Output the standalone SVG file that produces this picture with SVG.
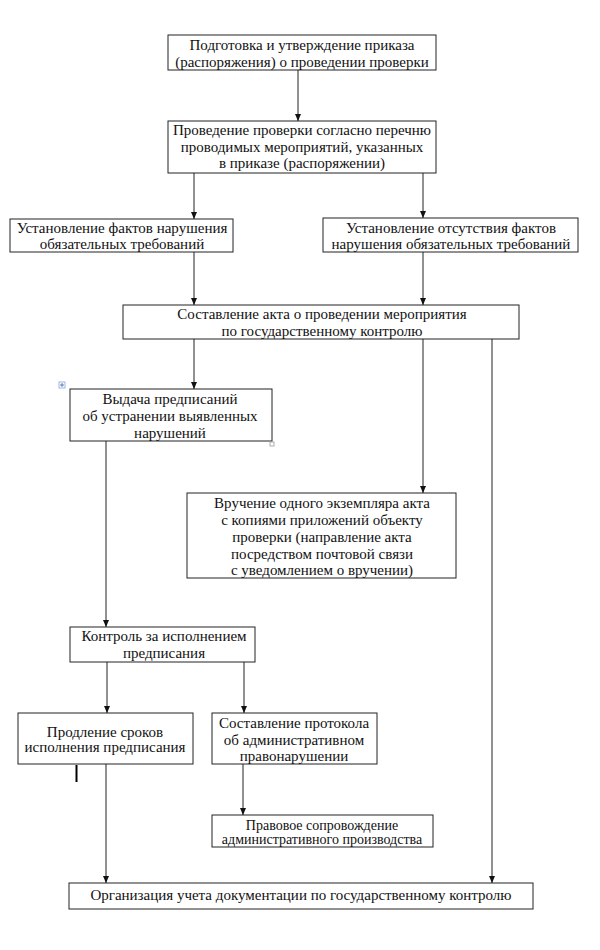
<svg xmlns="http://www.w3.org/2000/svg" width="600" height="950" viewBox="0 0 600 950">
<style>
.box{fill:#fff;stroke:#222;stroke-width:1}
.t{font-family:"Liberation Serif","Times New Roman",serif;font-size:15px;fill:#111;text-anchor:middle}
.s{font-size:14px}
.c{stroke:#222;stroke-width:1;fill:none;marker-end:url(#ah)}
</style>
<defs>
<marker id="ah" markerWidth="8" markerHeight="8" refX="7" refY="3" orient="auto" markerUnits="userSpaceOnUse">
<path d="M0,0 L7,3 L0,6 Z" fill="#111"/>
</marker>
</defs>
<rect width="600" height="950" fill="#fff"/>
<g id="connectors">
<line class="c" x1="298" y1="70" x2="298" y2="121"/>
<line class="c" x1="194" y1="173" x2="194" y2="219"/>
<line class="c" x1="423" y1="173" x2="423" y2="218"/>
<line class="c" x1="194" y1="252" x2="194" y2="305"/>
<line class="c" x1="423" y1="252" x2="423" y2="305"/>
<line class="c" x1="194" y1="339" x2="194" y2="389"/>
<line class="c" x1="423" y1="339" x2="423" y2="493"/>
<line class="c" x1="492" y1="339" x2="492" y2="883"/>
<line class="c" x1="106" y1="441" x2="106" y2="627"/>
<line class="c" x1="107" y1="662" x2="107" y2="713"/>
<line class="c" x1="244" y1="662" x2="244" y2="713"/>
<line class="c" x1="106" y1="764" x2="106" y2="883"/>
<line class="c" x1="243" y1="764" x2="243" y2="815"/>
</g>
<g id="n1"><rect class="box" x="168" y="35" width="268" height="35"/>
<text class="t" x="302" y="50">Подготовка и утверждение приказа</text>
<text class="t" x="302" y="67">(распоряжения) о проведении проверки</text></g>
<g id="n2"><rect class="box" x="168" y="121" width="268" height="52"/>
<text class="t" x="302" y="135">Проведение проверки согласно перечню</text>
<text class="t" x="302" y="152">проводимых мероприятий, указанных</text>
<text class="t" x="302" y="168">в приказе (распоряжении)</text></g>
<g id="n3"><rect class="box" x="10" y="219" width="223" height="33"/>
<text class="t" x="122" y="233">Установление фактов нарушения</text>
<text class="t" x="122" y="249">обязательных требований</text></g>
<g id="n4"><rect class="box" x="323" y="218" width="255" height="34"/>
<text class="t" x="451" y="233">Установление отсутствия фактов</text>
<text class="t" x="451" y="249">нарушения обязательных требований</text></g>
<g id="n5"><rect class="box" x="123" y="305" width="396" height="34"/>
<text class="t" x="322" y="319">Составление акта о проведении мероприятия</text>
<text class="t" x="322" y="336">по государственному контролю</text></g>
<g id="n6"><rect class="box" x="70" y="389" width="202" height="52"/>
<text class="t" x="170" y="404">Выдача предписаний</text>
<text class="t" x="170" y="421">об устранении выявленных</text>
<text class="t" x="170" y="438">нарушений</text></g>
<g id="handles">
<rect x="59" y="382" width="6" height="6" fill="#fff" stroke="#8aa4d6" stroke-width="0.8"/>
<path d="M62,383 V387 M60,385 H64" stroke="#3a5fb0" stroke-width="0.8"/>
<rect x="270" y="442" width="4" height="4" fill="#fff" stroke="#999" stroke-width="0.8"/>
</g>
<g id="n7"><rect class="box" x="187" y="493" width="269" height="85"/>
<text class="t" x="322" y="508">Вручение одного экземпляра акта</text>
<text class="t" x="322" y="525">с копиями приложений объекту</text>
<text class="t" x="322" y="542">проверки (направление акта</text>
<text class="t" x="322" y="559">посредством почтовой связи</text>
<text class="t" x="322" y="575">с уведомлением о вручении)</text></g>
<g id="n8"><rect class="box" x="70" y="627" width="185" height="35"/>
<text class="t" x="164" y="641">Контроль за исполнением</text>
<text class="t" x="164" y="658">предписания</text></g>
<g id="n9"><rect class="box" x="18" y="713" width="175" height="51"/>
<text class="t" x="105" y="737">Продление сроков</text>
<text class="t" x="105" y="752">исполнения предписания</text></g>
<g id="n10"><rect class="box" x="212" y="713" width="165" height="51"/>
<text class="t" x="294" y="728">Составление протокола</text>
<text class="t" x="294" y="745">об административном</text>
<text class="t" x="294" y="761">правонарушении</text></g>
<line x1="76.5" y1="765" x2="76.5" y2="782" stroke="#000" stroke-width="2"/>
<g id="n11"><rect class="box" x="212" y="815" width="221" height="32"/>
<text class="t s" x="322" y="830">Правовое сопровождение</text>
<text class="t s" x="322" y="844">административного производства</text></g>
<g id="n12"><rect class="box" x="69" y="883" width="464" height="26"/>
<text class="t" x="301" y="900">Организация учета документации по государственному контролю</text></g>
</svg>
